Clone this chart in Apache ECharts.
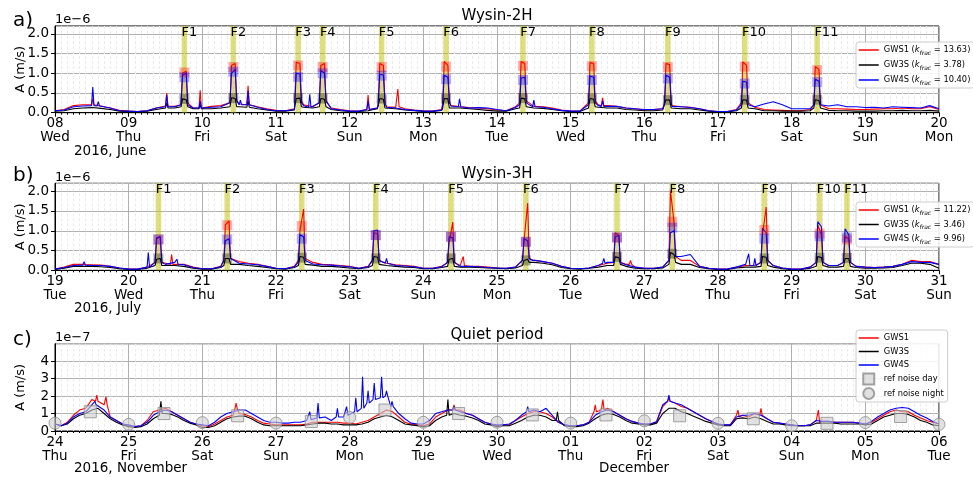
<!DOCTYPE html>
<html>
<head>
<meta charset="utf-8">
<script src="https://cdn.jsdelivr.net/npm/echarts@6/dist/echarts.min.js"></script>
<style>
  html, body { margin: 0; padding: 0; background: #fff; }
  #chart { width: 973px; height: 477px; }
</style>
</head>
<body>
<div id="chart"></div>
<script>
// ---- tick labels (one per day, x in hours from panel start) ----
var daysA = ['08', '09', '10', '11', '12', '13', '14', '15', '16', '17', '18', '19', '20'];
var weekdaysA = ['Wed', 'Thu', 'Fri', 'Sat', 'Sun', 'Mon', 'Tue', 'Wed', 'Thu', 'Fri', 'Sat', 'Sun', 'Mon'];
var daysB = ['19', '20', '21', '22', '23', '24', '25', '26', '27', '28', '29', '30', '31'];
var weekdaysB = ['Tue', 'Wed', 'Thu', 'Fri', 'Sat', 'Sun', 'Mon', 'Tue', 'Wed', 'Thu', 'Fri', 'Sat', 'Sun'];
var daysC = ['24', '25', '26', '27', '28', '29', '30', '01', '02', '03', '04', '05', '06'];
var weekdaysC = ['Thu', 'Fri', 'Sat', 'Sun', 'Mon', 'Tue', 'Wed', 'Thu', 'Fri', 'Sat', 'Sun', 'Mon', 'Tue'];

// ---- panel a : Wysin-2H (1e-6 m/s), background every 3 h ----
var gws1A = [
  0.05, 0.08, 0.18, 0.2, 0.18, 0.17, 0.12, 0.06,
  0.04, 0.03, 0.05, 0.12, 0.17, 0.16, 0.15, 0.12,
  0.15, 0.16, 0.18, 0.2, 0.22, 0.2, 0.15, 0.1,
  0.06, 0.05, 0.1, 0.2, 0.15, 0.15, 0.12, 0.08,
  0.05, 0.04, 0.06, 0.12, 0.15, 0.14, 0.1, 0.07,
  0.05, 0.04, 0.08, 0.18, 0.15, 0.13, 0.12, 0.1,
  0.07, 0.05, 0.15, 0.18, 0.16, 0.15, 0.12, 0.07,
  0.04, 0.04, 0.12, 0.2, 0.18, 0.16, 0.12, 0.1,
  0.07, 0.08, 0.1, 0.18, 0.15, 0.14, 0.1, 0.05,
  0.03, 0.03, 0.08, 0.15, 0.14, 0.08, 0.07, 0.06,
  0.05, 0.05, 0.08, 0.15, 0.1, 0.1, 0.09, 0.08,
  0.08, 0.09, 0.1, 0.1, 0.12, 0.1, 0.1, 0.15,
  0.08
];
var gw3sA = [
  0.04, 0.05, 0.1, 0.12, 0.13, 0.11, 0.08, 0.04,
  0.03, 0.03, 0.04, 0.08, 0.12, 0.12, 0.1, 0.1,
  0.1, 0.1, 0.12, 0.15, 0.15, 0.14, 0.1, 0.07,
  0.04, 0.04, 0.07, 0.14, 0.12, 0.12, 0.08, 0.05,
  0.03, 0.03, 0.05, 0.1, 0.1, 0.1, 0.07, 0.05,
  0.03, 0.03, 0.06, 0.12, 0.12, 0.1, 0.08, 0.06,
  0.04, 0.04, 0.1, 0.12, 0.12, 0.11, 0.08, 0.05,
  0.03, 0.03, 0.08, 0.14, 0.12, 0.12, 0.08, 0.07,
  0.05, 0.05, 0.07, 0.12, 0.1, 0.1, 0.07, 0.04,
  0.02, 0.02, 0.05, 0.1, 0.1, 0.05, 0.05, 0.04,
  0.04, 0.04, 0.05, 0.1, 0.06, 0.05, 0.05, 0.04,
  0.04, 0.04, 0.05, 0.05, 0.06, 0.05, 0.05, 0.06,
  0.04
];
var gw4sA = [
  0.05, 0.07, 0.15, 0.17, 0.18, 0.2, 0.12, 0.05,
  0.04, 0.03, 0.05, 0.12, 0.15, 0.15, 0.14, 0.12,
  0.13, 0.14, 0.15, 0.18, 0.25, 0.2, 0.14, 0.08,
  0.05, 0.05, 0.08, 0.18, 0.14, 0.14, 0.1, 0.07,
  0.04, 0.04, 0.06, 0.12, 0.14, 0.12, 0.08, 0.06,
  0.04, 0.04, 0.07, 0.17, 0.15, 0.12, 0.13, 0.12,
  0.08, 0.05, 0.13, 0.17, 0.15, 0.14, 0.1, 0.06,
  0.04, 0.04, 0.1, 0.18, 0.16, 0.16, 0.12, 0.1,
  0.08, 0.08, 0.1, 0.16, 0.15, 0.13, 0.1, 0.05,
  0.03, 0.03, 0.07, 0.14, 0.15, 0.22, 0.28, 0.2,
  0.1, 0.1, 0.1, 0.18, 0.17, 0.2, 0.15, 0.15,
  0.13, 0.14, 0.12, 0.15, 0.14, 0.13, 0.12, 0.18,
  0.1
];
// events F1..F11 (hour of band centre) and line shape [before, top1, top2, after]
var eventsA = [42.15, 58.1, 79.2, 87.2, 106.4, 127.4, 152.45, 174.9, 199.65, 224.7, 248.3];
var evRedA = [[0.2, 1.0, 1.05, 0.25], [0.25, 1.2, 1.25, 0.3], [0.25, 1.28, 1.25, 0.3], [0.25, 1.2, 1.25, 0.3],
  [0.2, 1.25, 1.2, 0.25], [0.25, 1.3, 1.2, 0.3], [0.25, 1.3, 1.25, 0.3], [0.25, 1.27, 1.25, 0.3],
  [0.25, 1.25, 1.22, 0.25], [0.25, 1.29, 1.2, 0.25], [0.2, 1.17, 1.1, 0.2]];
var evBlackA = [[0.15, 0.35, 0.33, 0.15], [0.15, 0.38, 0.36, 0.15], [0.15, 0.36, 0.37, 0.15], [0.15, 0.36, 0.34, 0.15],
  [0.12, 0.36, 0.34, 0.12], [0.12, 0.36, 0.35, 0.12], [0.12, 0.37, 0.35, 0.15], [0.12, 0.36, 0.34, 0.15],
  [0.12, 0.33, 0.32, 0.12], [0.12, 0.33, 0.32, 0.12], [0.12, 0.33, 0.31, 0.12]];
var evBlueA = [[0.2, 0.95, 1.0, 0.2], [0.25, 1.0, 1.1, 0.3], [0.2, 1.0, 0.98, 0.25], [0.25, 1.07, 1.0, 0.3],
  [0.2, 0.98, 0.95, 0.25], [0.2, 0.95, 0.9, 0.25], [0.2, 0.88, 0.9, 0.25], [0.2, 0.93, 0.9, 0.25],
  [0.2, 0.95, 0.9, 0.25], [0.2, 0.8, 0.78, 0.2], [0.2, 0.85, 0.8, 0.2]];
var sqRedA = [1.02, 1.16, 1.2, 1.16, 1.16, 1.17, 1.19, 1.18, 1.16, 1.17, 1.08];
var sqBlackA = [0.35, 0.37, 0.37, 0.36, 0.36, 0.36, 0.37, 0.36, 0.32, 0.33, 0.33];
var sqBlueA = [0.9, 1.04, 0.91, 1.0, 0.94, 0.85, 0.83, 0.83, 0.87, 0.74, 0.78];
// short spikes [hour, level beside, peak]
var spRedA = [[12.3, 0.2, 0.35], [36.4, 0.17, 0.5], [47.3, 0.12, 0.57], [62.9, 0.2, 0.68], [102, 0.08, 0.45], [111.7, 0.15, 0.6], [178.4, 0.18, 0.38]];
var spBlackA = [[36.4, 0.12, 0.25], [47.3, 0.1, 0.2], [62.9, 0.14, 0.3]];
var spBlueA = [[12.3, 0.18, 0.65], [14.1, 0.17, 0.28], [36.4, 0.15, 0.45], [47.3, 0.12, 0.3], [60.4, 0.2, 0.32], [62.9, 0.2, 0.55],
  [83, 0.14, 0.47], [102, 0.08, 0.3], [131.8, 0.15, 0.35], [156, 0.15, 0.32], [178.4, 0.16, 0.3]];

// ---- panel b : Wysin-3H (1e-6 m/s), background every 3 h ----
var gws1B = [
  0.03, 0.08, 0.15, 0.15, 0.14, 0.13, 0.1, 0.06,
  0.03, 0.03, 0.08, 0.12, 0.18, 0.16, 0.15, 0.08,
  0.04, 0.04, 0.1, 0.15, 0.22, 0.18, 0.15, 0.1,
  0.05, 0.04, 0.1, 0.2, 0.2, 0.15, 0.14, 0.12,
  0.1, 0.05, 0.1, 0.2, 0.18, 0.14, 0.12, 0.1,
  0.05, 0.05, 0.1, 0.15, 0.12, 0.1, 0.1, 0.08,
  0.06, 0.05, 0.08, 0.2, 0.25, 0.22, 0.18, 0.1,
  0.05, 0.04, 0.06, 0.12, 0.18, 0.2, 0.15, 0.08,
  0.05, 0.05, 0.08, 0.2, 0.25, 0.25, 0.1, 0.05,
  0.03, 0.03, 0.08, 0.12, 0.12, 0.2, 0.12, 0.06,
  0.03, 0.03, 0.08, 0.15, 0.12, 0.12, 0.15, 0.1,
  0.08, 0.07, 0.08, 0.1, 0.15, 0.25, 0.22, 0.22,
  0.15
];
var gw3sB = [
  0.02, 0.05, 0.1, 0.1, 0.1, 0.09, 0.07, 0.04,
  0.02, 0.02, 0.05, 0.1, 0.12, 0.12, 0.1, 0.05,
  0.03, 0.03, 0.07, 0.12, 0.15, 0.12, 0.1, 0.07,
  0.04, 0.03, 0.07, 0.13, 0.13, 0.1, 0.1, 0.08,
  0.06, 0.04, 0.07, 0.14, 0.12, 0.1, 0.08, 0.07,
  0.04, 0.04, 0.07, 0.1, 0.08, 0.08, 0.07, 0.06,
  0.05, 0.04, 0.06, 0.15, 0.2, 0.18, 0.14, 0.07,
  0.04, 0.03, 0.05, 0.08, 0.12, 0.12, 0.1, 0.05,
  0.04, 0.04, 0.06, 0.15, 0.15, 0.15, 0.07, 0.04,
  0.02, 0.02, 0.06, 0.08, 0.08, 0.12, 0.08, 0.04,
  0.02, 0.02, 0.05, 0.1, 0.08, 0.08, 0.1, 0.07,
  0.05, 0.05, 0.06, 0.07, 0.12, 0.18, 0.18, 0.15,
  0.05
];
var gw4sB = [
  0.03, 0.07, 0.12, 0.13, 0.12, 0.12, 0.1, 0.06,
  0.03, 0.03, 0.08, 0.12, 0.15, 0.2, 0.14, 0.07,
  0.04, 0.04, 0.09, 0.2, 0.18, 0.16, 0.14, 0.1,
  0.05, 0.04, 0.09, 0.17, 0.16, 0.14, 0.13, 0.11,
  0.09, 0.05, 0.09, 0.18, 0.16, 0.12, 0.11, 0.09,
  0.05, 0.05, 0.09, 0.13, 0.1, 0.1, 0.09, 0.07,
  0.06, 0.05, 0.08, 0.2, 0.25, 0.22, 0.18, 0.1,
  0.05, 0.04, 0.06, 0.12, 0.2, 0.18, 0.14, 0.08,
  0.05, 0.05, 0.08, 0.25, 0.35, 0.4, 0.1, 0.05,
  0.03, 0.03, 0.08, 0.15, 0.15, 0.18, 0.12, 0.06,
  0.03, 0.03, 0.08, 0.14, 0.12, 0.12, 0.12, 0.1,
  0.08, 0.07, 0.08, 0.1, 0.15, 0.22, 0.2, 0.2,
  0.15
];
var eventsB = [33.7, 56.1, 80.4, 104.5, 129.0, 153.4, 183.1, 201.1, 231.1, 249.1, 258.0];
var evRedB = [[0.2, 0.8, 0.85, 0.2], [0.25, 1.15, 1.25, 0.3], [0.25, 1.0, 1.55, 0.3], [0.25, 0.95, 0.92, 0.25],
  [0.2, 0.7, 1.22, 0.2], [0.25, 0.75, 1.7, 0.3], [0.2, 0.95, 0.88, 0.2], [0.25, 2.02, 1.2, 0.35],
  [0.2, 0.9, 1.6, 0.25], [0.2, 1.15, 0.9, 0.2], [0.2, 0.85, 0.8, 0.2]];
var evBlackB = [[0.12, 0.28, 0.3, 0.12], [0.12, 0.3, 0.3, 0.15], [0.12, 0.35, 0.33, 0.15], [0.12, 0.35, 0.33, 0.15],
  [0.1, 0.28, 0.3, 0.1], [0.12, 0.25, 0.28, 0.2], [0.12, 0.34, 0.32, 0.15], [0.15, 0.45, 0.4, 0.2],
  [0.1, 0.35, 0.33, 0.12], [0.1, 0.35, 0.32, 0.12], [0.1, 0.3, 0.3, 0.1]];
var evBlueB = [[0.2, 0.82, 0.85, 0.2], [0.25, 0.75, 0.8, 0.3], [0.2, 0.9, 0.85, 0.25], [0.25, 1.0, 1.02, 0.25],
  [0.2, 0.85, 0.82, 0.2], [0.25, 0.8, 0.75, 0.3], [0.2, 0.85, 0.88, 0.2], [0.25, 0.95, 1.0, 0.35],
  [0.2, 1.06, 0.95, 0.25], [0.2, 1.23, 1.1, 0.2], [0.2, 1.05, 0.9, 0.2]];
var sqRedB = [0.78, 1.14, 1.12, 0.89, 0.85, 0.72, 0.83, 1.23, 1.02, 0.93, 0.78];
var sqBlackB = [0.3, 0.3, 0.32, 0.3, 0.3, 0.25, 0.34, 0.42, 0.3, 0.32, 0.31];
var sqBlueB = [0.78, 0.78, 0.8, 0.89, 0.85, 0.72, 0.83, 1.08, 0.8, 0.86, 0.83];
var spRedB = [[9.5, 0.14, 0.2], [38, 0.15, 0.4], [133, 0.12, 0.35], [187.5, 0.15, 0.25]];
var spBlackB = [];
var spBlueB = [[9.5, 0.13, 0.22], [30.4, 0.08, 0.45], [39.7, 0.15, 0.28], [108, 0.18, 0.3], [156, 0.25, 0.3],
  [178.8, 0.18, 0.3], [226, 0.12, 0.42], [228, 0.12, 0.3]];

// ---- panel c : quiet period (1e-7 m/s), background every 2 h ----
var gws1C = [
  0.4, 0.3, 0.5, 0.9, 1.2, 1.3, 1.8, 1.7, 1.5, 0.8, 0.6, 0.4,
  0.3, 0.25, 0.3, 0.6, 1.1, 1.2, 1.3, 1.1, 0.9, 0.7, 0.5, 0.4,
  0.3, 0.25, 0.4, 0.6, 0.8, 0.9, 1.0, 0.95, 0.8, 0.6, 0.45, 0.4,
  0.35, 0.35, 0.35, 0.35, 0.35, 0.4, 0.5, 0.5, 0.5, 0.5, 0.5, 0.45,
  0.45, 0.4, 0.5, 0.6, 0.8, 1.0, 1.2, 1.1, 0.8, 0.5, 0.4, 0.35,
  0.3, 0.4, 0.8, 1.0, 1.2, 1.3, 1.2, 1.0, 0.9, 0.7, 0.5, 0.4,
  0.3, 0.35, 0.35, 0.6, 0.8, 1.0, 1.1, 1.1, 1.0, 0.8, 0.5, 0.35,
  0.3, 0.3, 0.35, 0.5, 1.0, 1.2, 1.3, 1.1, 0.9, 0.7, 0.55, 0.45,
  0.4, 0.4, 0.5, 1.4, 1.7, 1.6, 1.4, 1.3, 1.1, 0.9, 0.7, 0.55,
  0.4, 0.35, 0.35, 0.9, 0.9, 0.8, 1.0, 0.9, 0.7, 0.5, 0.45, 0.4,
  0.35, 0.3, 0.3, 0.35, 0.6, 0.55, 0.55, 0.5, 0.5, 0.5, 0.5, 0.45,
  0.4, 0.5, 0.7, 0.9, 1.1, 1.2, 1.1, 1.1, 0.9, 0.75, 0.6, 0.5,
  0.4
];
var gw3sC = [
  0.4, 0.3, 0.4, 0.7, 0.9, 1.0, 1.2, 1.3, 1.0, 0.7, 0.5, 0.35,
  0.25, 0.2, 0.25, 0.4, 0.7, 0.9, 1.0, 0.95, 0.8, 0.6, 0.45, 0.35,
  0.2, 0.2, 0.3, 0.5, 0.7, 0.8, 0.85, 0.85, 0.7, 0.5, 0.35, 0.3,
  0.3, 0.3, 0.3, 0.3, 0.3, 0.35, 0.4, 0.45, 0.45, 0.4, 0.4, 0.35,
  0.35, 0.35, 0.4, 0.5, 0.7, 0.8, 0.9, 0.8, 0.6, 0.4, 0.35, 0.3,
  0.25, 0.3, 0.6, 0.8, 0.9, 1.0, 0.9, 0.85, 0.75, 0.6, 0.4, 0.35,
  0.25, 0.3, 0.3, 0.45, 0.6, 0.8, 0.9, 0.9, 0.8, 0.6, 0.4, 0.3,
  0.25, 0.25, 0.3, 0.45, 0.7, 0.9, 1.0, 0.95, 0.8, 0.6, 0.45, 0.4,
  0.35, 0.35, 0.45, 1.0, 1.3, 1.3, 1.1, 1.0, 0.85, 0.7, 0.55, 0.45,
  0.35, 0.3, 0.3, 0.7, 0.75, 0.7, 0.8, 0.7, 0.55, 0.4, 0.4, 0.35,
  0.3, 0.3, 0.3, 0.3, 0.45, 0.45, 0.45, 0.45, 0.4, 0.4, 0.4, 0.4,
  0.35, 0.4, 0.6, 0.8, 0.9, 1.0, 1.0, 0.95, 0.8, 0.6, 0.5, 0.35,
  0.3
];
var gw4sC = [
  0.4, 0.3, 0.45, 0.8, 1.0, 1.1, 1.5, 1.6, 1.2, 0.8, 0.6, 0.4,
  0.35, 0.25, 0.3, 0.5, 0.9, 1.1, 1.2, 1.1, 0.9, 0.7, 0.5, 0.4,
  0.35, 0.3, 0.5, 0.8, 1.0, 1.1, 1.2, 1.2, 1.0, 0.8, 0.6, 0.5,
  0.5, 0.45, 0.45, 0.5, 0.5, 0.6, 0.7, 0.8, 0.8, 0.6, 0.9, 0.8,
  0.9, 1.0, 1.3, 1.2, 1.8, 2.0, 2.0, 1.2, 1.0, 0.7, 0.45, 0.4,
  0.4, 0.6, 1.0, 1.1, 1.2, 1.2, 1.1, 1.0, 0.9, 0.7, 0.5, 0.4,
  0.35, 0.35, 0.4, 0.6, 0.9, 1.1, 1.2, 1.1, 1.3, 0.9, 0.5, 0.35,
  0.3, 0.3, 0.35, 0.5, 0.9, 1.1, 1.2, 1.1, 0.9, 0.7, 0.55, 0.45,
  0.4, 0.4, 0.55, 1.5, 1.8, 1.6, 1.5, 1.3, 1.1, 0.9, 0.7, 0.55,
  0.4, 0.35, 0.35, 0.8, 0.9, 0.9, 1.0, 0.9, 0.7, 0.5, 0.45, 0.4,
  0.35, 0.3, 0.3, 0.35, 0.6, 0.55, 0.55, 0.5, 0.5, 0.5, 0.5, 0.45,
  0.4, 0.55, 0.8, 1.0, 1.2, 1.3, 1.35, 1.3, 1.1, 0.9, 0.75, 0.55,
  0.4
];
var spRedC = [[13.6, 1.7, 2.05], [16.6, 1.5, 1.95], [59, 1.25, 1.6], [130, 1.2, 1.5], [176, 1.1, 1.5], [178.5, 1.2, 1.8],
  [200, 1.7, 1.95], [222.5, 0.8, 1.2], [230, 0.9, 1.3], [248.7, 0.5, 1.2]];
var spBlackC = [[34.5, 1.0, 1.7], [128, 0.9, 1.8], [163.7, 0.6, 1.1]];
var spBlueC = [[13, 1.5, 1.7], [83, 0.65, 1.1], [85.7, 0.75, 1.6], [92, 0.8, 1.3], [95, 0.9, 1.4], [98, 1.1, 1.9],
  [100.2, 1.3, 3.1], [102, 1.6, 2.3], [104, 1.8, 2.75], [106.4, 1.9, 3.1], [108, 2.0, 2.3], [109.8, 1.4, 1.7],
  [130, 1.2, 1.4], [154, 1.1, 1.4], [200, 1.7, 2.05]];
var noiseNightHours = [0, 24, 48, 72, 96, 120, 144, 168, 192, 216, 240, 264, 288];
var noiseNight = [0.45, 0.38, 0.48, 0.45, 0.77, 0.5, 0.5, 0.45, 0.58, 0.44, 0.3, 0.48, 0.38];
var noiseDayHours = [11.5, 35.5, 59.5, 83.5, 107.5, 131.5, 155.5, 179.5, 203.5, 227.5, 251.5, 275.5];
var noiseDay = [1.1, 1.0, 0.87, 0.54, 1.2, 1.0, 0.92, 0.92, 0.87, 0.7, 0.44, 0.83];

var FONT = 'DejaVu Sans';

// join background, event pulses and spikes into one time-ordered series
function assemble(base, step, eventHours, eventVals, spikes) {
  var pts = [];
  var windows = [];
  eventHours.forEach(function (c, i) {
    var v = eventVals[i];
    pts.push([c - 1.1, v[0]], [c - 0.6, v[1]], [c + 0.6, v[2]], [c + 1.1, v[3]]);
    windows.push([c - 1.1, c + 1.1]);
  });
  spikes.forEach(function (s) {
    pts.push([s[0] - 0.4, s[1]], [s[0], s[2]], [s[0] + 0.4, s[1]]);
    windows.push([s[0] - 0.4, s[0] + 0.4]);
  });
  base.forEach(function (v, i) {
    var t = i * step;
    var inside = windows.some(function (w) { return t >= w[0] && t <= w[1]; });
    if (!inside) pts.push([t, v]);
  });
  pts.sort(function (a, b) { return a[0] - b[0]; });
  return pts;
}

function xAxisFor(gi, days, weekdays) {
  return {
    type: 'value', gridIndex: gi, min: 0, max: 288, interval: 24,
    axisLine: { show: true, onZero: false, lineStyle: { color: '#000' } },
    axisTick: { show: true, length: 4, lineStyle: { color: '#000' } },
    minorTick: { show: true, splitNumber: 12, length: 2, lineStyle: { color: '#000' } },
    splitLine: { show: true, lineStyle: { color: '#b0b0b0', width: 1 } },
    minorSplitLine: { show: true, lineStyle: { color: '#ebebeb', type: [3, 2], width: 1 } },
    axisLabel: {
      margin: 4, color: '#000', fontFamily: FONT, fontSize: 13.5, lineHeight: 14,
      formatter: function (v) {
        var i = Math.round(v / 24);
        return days[i] + '\n' + weekdays[i];
      }
    }
  };
}

function yAxisFor(gi, max, interval, digits) {
  return {
    type: 'value', gridIndex: gi, min: 0, max: max, interval: interval,
    name: 'A (m/s)', nameLocation: 'middle', nameGap: 28, nameRotate: 90, nameMoveOverlap: false,
    nameTextStyle: { fontFamily: FONT, fontSize: 13, color: '#000' },
    axisLine: { show: true, onZero: false, lineStyle: { color: '#000' } },
    axisTick: { show: true, length: 4, lineStyle: { color: '#000' } },
    splitLine: { show: true, lineStyle: { color: '#b0b0b0', width: 1 } },
    axisLabel: {
      color: '#000', fontFamily: FONT, fontSize: 13.5, margin: 6, showMaxLabel: false,
      formatter: function (v) { return v.toFixed(digits); }
    }
  };
}

function lineSeries(name, gi, data, color) {
  return {
    type: 'line', name: name, xAxisIndex: gi, yAxisIndex: gi, data: data,
    symbol: 'none', showSymbol: false, silent: true, animation: false, z: 3,
    lineStyle: { color: color, width: 1.1 }, itemStyle: { color: color }
  };
}

function squareSeries(gi, hours, vals, color) {
  return {
    type: 'scatter', xAxisIndex: gi, yAxisIndex: gi, symbol: 'rect', symbolSize: 10,
    silent: true, animation: false, z: 4, itemStyle: { color: color },
    data: hours.map(function (h, i) { return [h, vals[i]]; })
  };
}

function bandSeries(gi, hours) {
  return {
    type: 'scatter', xAxisIndex: gi, yAxisIndex: gi, symbolSize: 0, silent: true, animation: false, z: 1,
    data: hours.map(function (h) { return [h, 0]; }),
    markArea: {
      silent: true,
      itemStyle: { color: 'rgba(191,191,0,0.5)' },
      label: { show: true, position: [0, 0], color: '#000', fontFamily: FONT, fontSize: 13 },
      data: hours.map(function (h, i) { return [{ xAxis: h - 0.9, name: 'F' + (i + 1) }, { xAxis: h + 0.9 }]; })
    }
  };
}

// line entries drop the marker that ECharts puts in the middle of a line icon
function legendItems(names) {
  return names.map(function (n) {
    if (n === 'ref noise day') return { name: n, icon: 'path://M0,0 L10,0 L10,10 L0,10 Z' };
    if (n === 'ref noise night') return { name: n, icon: 'circle' };
    return { name: n, itemStyle: { opacity: 0 } };
  });
}

function legendFor(top, names, itemGap) {
  return {
    orient: 'vertical', left: 856, top: top, data: legendItems(names), selectedMode: false,
    itemWidth: 20, itemHeight: 11, itemGap: itemGap, padding: [2, 4, 2, 2],
    lineStyle: { width: 1.5 },
    backgroundColor: 'rgba(255,255,255,0.85)', borderColor: '#cccccc', borderWidth: 1, borderRadius: 3,
    textStyle: {
      fontFamily: FONT, fontSize: 8.3, color: '#000', lineHeight: 12,
      rich: {
        n: { fontFamily: FONT, fontSize: 8.3, color: '#000', lineHeight: 12 },
        k: { fontFamily: FONT, fontSize: 8.3, fontStyle: 'italic', color: '#000', lineHeight: 12 },
        s: { fontFamily: FONT, fontSize: 6, fontStyle: 'italic', color: '#000', lineHeight: 9, verticalAlign: 'bottom' }
      }
    },
    formatter: function (name) {
      var m = name.match(/^(.*\()k_frac( = .*\))$/);
      if (m) return '{n|' + m[1] + '}{k|k}{s|frac}{n|' + m[2] + '}';
      return '{n|' + name + '}';
    }
  };
}

function text(x, y, str, size, align) {
  return {
    type: 'text', x: x, y: y, silent: true,
    style: { text: str, fontFamily: FONT, fontSize: size, fill: '#000', align: align || 'left', verticalAlign: 'middle' }
  };
}

var namesA = ['GWS1 (k_frac = 13.63)', 'GW3S (k_frac = 3.78)', 'GW4S (k_frac = 10.40)'];
var namesB = ['GWS1 (k_frac = 11.22)', 'GW3S (k_frac = 3.46)', 'GW4S (k_frac = 9.96)'];
var namesC = ['GWS1', 'GW3S', 'GW4S', 'ref noise day', 'ref noise night'];

var noiseStyle = { color: 'rgba(205,205,205,0.75)', borderColor: '#8c8c8c', borderWidth: 1 };

var option = {
  animation: false,
  grid: [
    { left: 55, top: 26, width: 884, height: 86.7, show: true, borderColor: '#000', borderWidth: 1 },
    { left: 55, top: 183.3, width: 884, height: 87, show: true, borderColor: '#000', borderWidth: 1 },
    { left: 55, top: 343.7, width: 884, height: 87.3, show: true, borderColor: '#000', borderWidth: 1 }
  ],
  xAxis: [xAxisFor(0, daysA, weekdaysA), xAxisFor(1, daysB, weekdaysB), xAxisFor(2, daysC, weekdaysC)],
  yAxis: [yAxisFor(0, 2.2, 0.5, 1), yAxisFor(1, 2.2, 0.5, 1), yAxisFor(2, 5, 1, 0)],
  legend: [legendFor(42, namesA, 3), legendFor(202, namesB, 2.5), legendFor(330, namesC, 1.5)],
  series: [
    bandSeries(0, eventsA),
    lineSeries(namesA[0], 0, assemble(gws1A, 3, eventsA, evRedA, spRedA), '#ff0000'),
    lineSeries(namesA[1], 0, assemble(gw3sA, 3, eventsA, evBlackA, spBlackA), '#000000'),
    lineSeries(namesA[2], 0, assemble(gw4sA, 3, eventsA, evBlueA, spBlueA), '#0000ff'),
    squareSeries(0, eventsA, sqRedA, 'rgba(255,0,0,0.4)'),
    squareSeries(0, eventsA, sqBlueA, 'rgba(0,0,255,0.4)'),
    squareSeries(0, eventsA, sqBlackA, 'rgba(0,0,0,0.4)'),

    bandSeries(1, eventsB),
    lineSeries(namesB[0], 1, assemble(gws1B, 3, eventsB, evRedB, spRedB), '#ff0000'),
    lineSeries(namesB[1], 1, assemble(gw3sB, 3, eventsB, evBlackB, spBlackB), '#000000'),
    lineSeries(namesB[2], 1, assemble(gw4sB, 3, eventsB, evBlueB, spBlueB), '#0000ff'),
    squareSeries(1, eventsB, sqRedB, 'rgba(255,0,0,0.4)'),
    squareSeries(1, eventsB, sqBlueB, 'rgba(0,0,255,0.4)'),
    squareSeries(1, eventsB, sqBlackB, 'rgba(0,0,0,0.4)'),

    lineSeries(namesC[0], 2, assemble(gws1C, 2, [], [], spRedC), '#ff0000'),
    lineSeries(namesC[1], 2, assemble(gw3sC, 2, [], [], spBlackC), '#000000'),
    lineSeries(namesC[2], 2, assemble(gw4sC, 2, [], [], spBlueC), '#0000ff'),
    {
      type: 'scatter', name: namesC[3], xAxisIndex: 2, yAxisIndex: 2, symbol: 'rect', symbolSize: 12,
      silent: true, z: 4, itemStyle: noiseStyle,
      data: noiseDayHours.map(function (h, i) { return [h, noiseDay[i]]; })
    },
    {
      type: 'scatter', name: namesC[4], xAxisIndex: 2, yAxisIndex: 2, symbol: 'circle', symbolSize: 12,
      silent: true, z: 4, itemStyle: noiseStyle,
      data: noiseNightHours.map(function (h, i) { return [h, noiseNight[i]]; })
    }
  ],
  graphic: [
    text(13, 21, 'a)', 20), text(13, 176, 'b)', 20), text(13, 339.5, 'c)', 20),
    text(497, 16.5, 'Wysin-2H', 15, 'center'),
    text(497, 174, 'Wysin-3H', 15, 'center'),
    text(497, 335.5, 'Quiet period', 15, 'center'),
    text(55, 19.5, '1e\u22126', 13), text(55, 177.5, '1e\u22126', 13), text(55, 337.5, '1e\u22127', 13),
    text(74, 151, '2016, June', 13.5),
    text(74, 308.5, '2016, July', 13.5),
    text(74, 468.5, '2016, November', 13.5),
    text(599, 468.5, 'December', 13.5)
  ]
};

var chart = echarts.init(document.getElementById('chart'), null, { renderer: 'canvas' });
chart.setOption(option);
</script>
</body>
</html>
